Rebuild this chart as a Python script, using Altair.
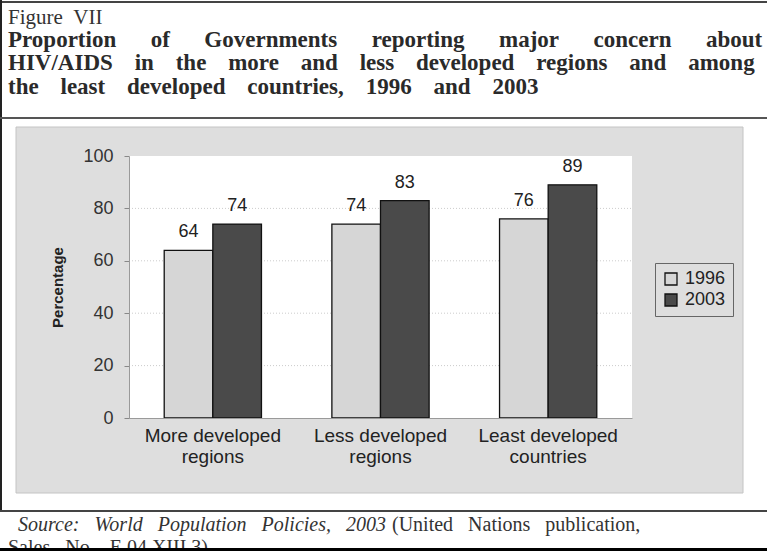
import altair as alt
import pandas as pd

# ---- data ----
categories = ["More developed regions", "Less developed regions", "Least developed countries"]
years = ["1996", "2003"]
values_1996 = [64, 74, 76]
values_2003 = [74, 83, 89]
y_ticks = [0, 20, 40, 60, 80, 100]
grid_values = [20, 40, 60, 80]

title_small = ["Figure", "VII"]
title_lines = [
    ["Proportion", "of", "Governments", "reporting", "major", "concern", "about"],
    ["HIV/AIDS", "in", "the", "more", "and", "less", "developed", "regions", "and", "among"],
    ["the", "least", "developed", "countries,", "1996", "and", "2003"],
]
source_italic = ["Source:", "World", "Population", "Policies,", "2003"]
source_normal = ["(United", "Nations", "publication,"]
source_line2 = ["Sales", "No.", "E.04.XIII.3)"]

rows = []
for c, a, b in zip(categories, values_1996, values_2003):
    rows.append({"region": c, "year": years[0], "pct": a})
    rows.append({"region": c, "year": years[1], "pct": b})
df = pd.DataFrame(rows)
grid_df = pd.DataFrame({"pct": grid_values})
one = pd.DataFrame({"k": [0]})

# ---- layout (plot area inside a 767x551 page) ----
W, H = 503, 262
OX, OY = 129, 156


def rx(v):
    return v - OX


def ry(v):
    return v - OY


def rect(x, x2, y, y2, fill, **kw):
    return alt.Chart(one).mark_rect(fill=fill, **kw).encode(
        x=alt.value(rx(x)), x2=alt.value(rx(x2)), y=alt.value(ry(y)), y2=alt.value(ry(y2))
    )


def text(s, x, y, size, **kw):
    return alt.Chart(one).mark_text(fontSize=size, baseline="alphabetic", **kw).encode(
        x=alt.value(rx(x)), y=alt.value(ry(y)), text=alt.value(s)
    )


grey_box = rect(16, 743, 127, 493, "#dedede", stroke="#c4c4c4", strokeWidth=1)
white_area = rect(OX, OX + W, OY, OY + H, "#ffffff")

y_axis = alt.Axis(
    values=y_ticks,
    title="Percentage",
    titleFont="Liberation Sans",
    titleFontWeight="bold",
    titleFontSize=15,
    titleColor="#222",
    titlePadding=17,
    labelFont="Liberation Sans",
    labelFontSize=18,
    labelColor="#333",
    labelPadding=11,
    tickSize=5,
    tickColor="#888",
    domainColor="#9a9a9a",
    grid=False,
    zindex=1,
)
y_scale = alt.Scale(domain=[0, 100], nice=False)

grid = alt.Chart(grid_df).mark_rule(color="#cccccc", strokeDash=[1, 2], strokeWidth=1).encode(
    y=alt.Y("pct:Q", axis=y_axis, scale=y_scale),
    x=alt.value(0),
    x2=alt.value(W),
)

x_enc = alt.X(
    "region:N",
    sort=categories,
    scale=alt.Scale(paddingInner=0.42, paddingOuter=0.21),
    axis=alt.Axis(
        title=None,
        labelAngle=0,
        labelExpr="[substring(datum.label, 0, lastindexof(datum.label, ' ')), substring(datum.label, lastindexof(datum.label, ' ') + 1)]",
        labelFont="Liberation Sans",
        labelFontSize=19,
        labelColor="#222",
        labelLineHeight=21,
        labelPadding=8,
        ticks=False,
        domainColor="#9a9a9a",
        zindex=1,
    ),
)
xoff = alt.XOffset("year:N", sort=years, scale=alt.Scale(paddingInner=0, paddingOuter=0))
y_enc = alt.Y("pct:Q", scale=y_scale, axis=y_axis)

bars = alt.Chart(df).mark_bar(stroke="#111", strokeWidth=1.3).encode(
    x=x_enc,
    xOffset=xoff,
    y=y_enc,
    color=alt.Color(
        "year:N",
        sort=years,
        scale=alt.Scale(domain=years, range=["#d6d6d6", "#4a4a4a"]),
        legend=alt.Legend(
            title=None,
            orient="none",
            legendX=526,
            legendY=107,
            symbolType="square",
            symbolSize=144,
            symbolStrokeColor="#111",
            symbolStrokeWidth=1.3,
            labelFont="Liberation Sans",
            labelFontSize=18,
            labelColor="#222",
            labelOffset=5,
            padding=7,
            rowPadding=3,
            strokeColor="#666",
            fillColor="#dedede",
        ),
    ),
)

value_labels = alt.Chart(df).mark_text(
    dy=-13, baseline="alphabetic", fontSize=18, font="Liberation Sans", color="#222"
).encode(
    x=alt.X("region:N", sort=categories),
    xOffset=xoff,
    y=alt.Y("pct:Q", scale=y_scale),
    text=alt.Text("pct:Q"),
)

# ---- page decorations: rules, title, source ----
top_line = rect(0, 767, 1, 3, "#444")
left_line = rect(0, 2, 0, 512, "#222")
title_rule = rect(0, 767, 117, 119, "#555")
source_rule = rect(0, 767, 510, 512, "#444")
bottom_strip = rect(0, 767, 548, 551, "#000")

serif = "Liberation Serif"
EM, EN, THIN = "\u2003", "\u2002", "\u2009"
t0 = text(EN.join(title_small), 8, 24, 21, font=serif, color="#333", align="left")
t1 = text((EM + EN).join(title_lines[0]), 8, 47, 23, font=serif, fontWeight="bold", color="#2a2a2a", align="left")
t2 = text((EN + " " + THIN).join(title_lines[1]), 8, 70, 23, font=serif, fontWeight="bold", color="#2a2a2a", align="left")
t3 = text((EN + " " + THIN).join(title_lines[2]), 8, 94, 23, font=serif, fontWeight="bold", color="#2a2a2a", align="left")

s1 = text((EN + " ").join(source_italic), 386, 531, 20, font=serif, fontStyle="italic", color="#333", align="right")
s2 = text((EN + " ").join(source_normal), 392, 531, 20, font=serif, color="#333", align="left")
s3 = text((EN + " ").join(source_line2), 8, 554, 20, font=serif, color="#333", align="left")

chart = alt.layer(
    grey_box, white_area, grid, bars, value_labels,
    top_line, left_line, title_rule, source_rule,
    t0, t1, t2, t3, s1, s2, s3, bottom_strip,
).properties(
    width=W,
    height=H,
    padding={"left": OX, "top": OY, "right": 767 - OX - W, "bottom": 551 - OY - H},
    autosize=alt.AutoSizeParams(type="none"),
).configure(
    background="white",
).configure_view(
    stroke=None,
)

chart.save("out.html", embed_options={"renderer": "svg", "actions": False})
